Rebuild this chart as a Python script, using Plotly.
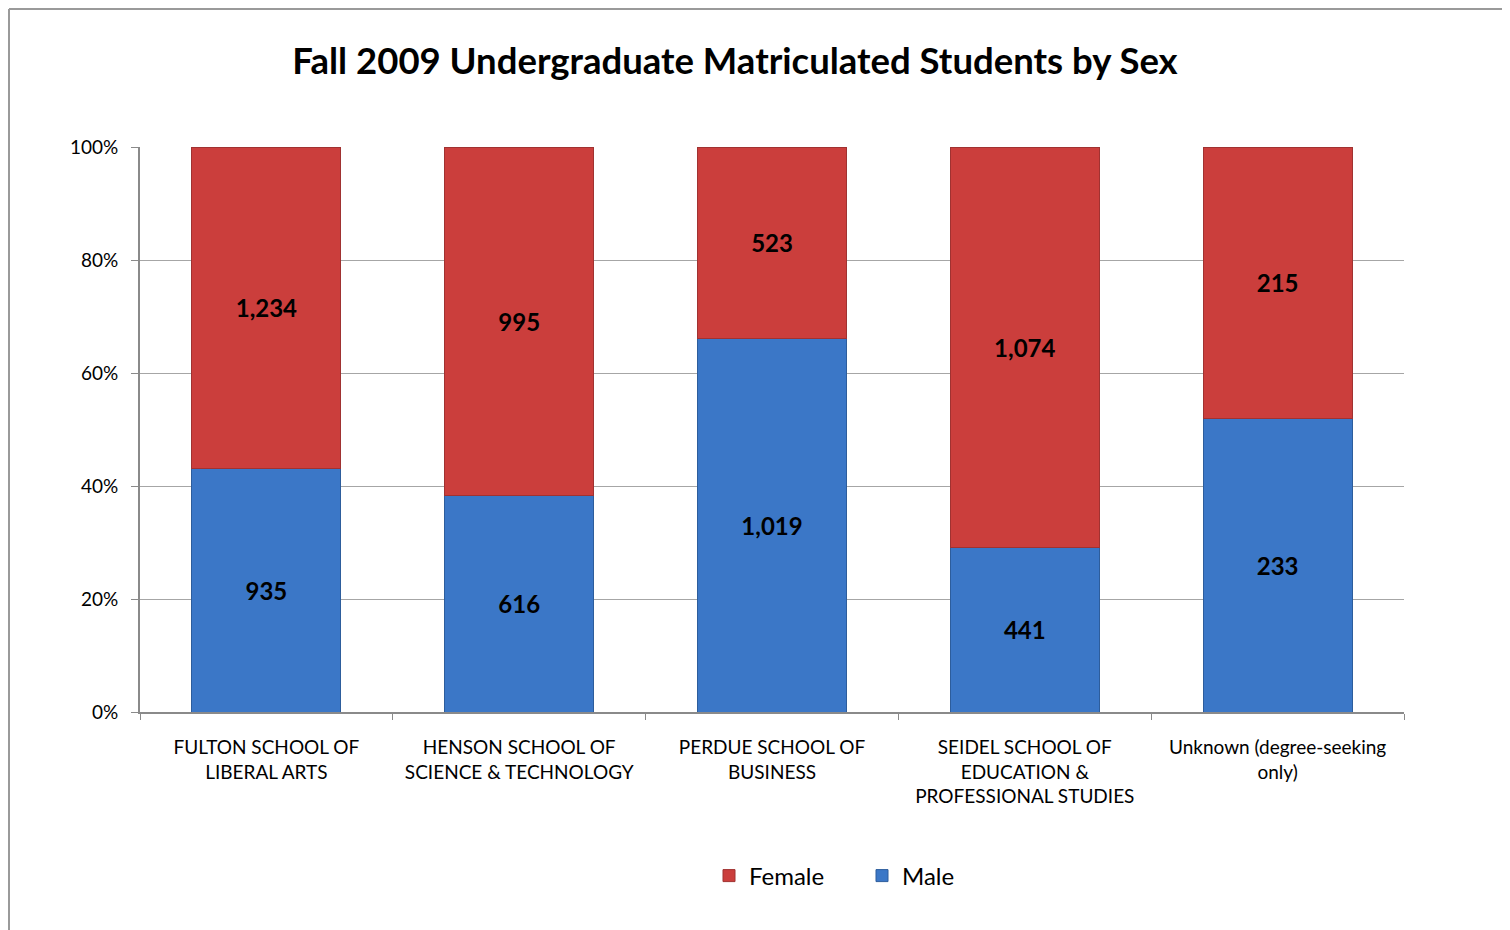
import plotly.graph_objects as go

categories = ["Fulton", "Henson", "Perdue", "Seidel", "Unknown"]
tick_labels = [
    "FULTON SCHOOL OF<br>LIBERAL ARTS",
    "HENSON SCHOOL OF<br>SCIENCE & TECHNOLOGY",
    "PERDUE SCHOOL OF<br>BUSINESS",
    "SEIDEL SCHOOL OF<br>EDUCATION &<br>PROFESSIONAL STUDIES",
    "Unknown (degree-seeking<br>only)",
]
male = [935, 616, 1019, 441, 233]
female = [1234, 995, 523, 1074, 215]

FONT = "Lato"
OFF = 8  # page body margin offset
W, H = 1510, 930
L, R, T, B = 140 - OFF, W - (1404 - OFF), 147 - OFF, H - (712 - OFF)

fig = go.Figure()
fig.add_trace(go.Bar(
    name="Male", x=categories, y=male,
    text=[f"{v:,}" for v in male], textposition="inside",
    insidetextanchor="middle", textangle=0,
    textfont=dict(family=FONT, size=24, color="black", weight="bold"),
    marker=dict(color="#3b77c7", line=dict(color="#2d5d9c", width=1)),
))
fig.add_trace(go.Bar(
    name="Female", x=categories, y=female,
    text=[f"{v:,}" for v in female], textposition="inside",
    insidetextanchor="middle", textangle=0,
    textfont=dict(family=FONT, size=24, color="black", weight="bold"),
    marker=dict(color="#cb3e3c", line=dict(color="#a03231", width=1)),
))

pw = W - L - R
ph = H - T - B
def px(x):
    return (x - OFF - L) / pw
def py(y):
    return (H - B - (y - OFF)) / ph

fig.update_layout(
    width=W, height=H, autosize=False,
    margin=dict(l=L, r=R, t=T, b=B, autoexpand=False),
    barmode="stack", barnorm="percent", bargap=0.41,
    paper_bgcolor="white", plot_bgcolor="white",
    font=dict(family=FONT, color="black"),
    title=dict(text="<b>Fall 2009 Undergraduate Matriculated Students by Sex</b>",
               x=(735 - OFF) / W, xanchor="center", y=1 - (61 - OFF) / H, yanchor="middle",
               font=dict(family=FONT, size=36.5, color="black")),
    xaxis=dict(tickvals=categories, ticktext=tick_labels,
               tickson="boundaries", ticks="outside", ticklen=6,
               tickcolor="#8a8a8a", showline=True, linecolor="#8a8a8a",
               linewidth=2, tickfont=dict(family=FONT, size=19, color="black"),
               ticklabelstandoff=17,
               tickangle=0, automargin=False, showgrid=False),
    yaxis=dict(range=[0, 100], tickvals=[0, 20, 40, 60, 80, 100],
               ticktext=["0%", "20%", "40%", "60%", "80%", "100%"],
               ticks="outside", ticklen=7, tickcolor="#8a8a8a",
               showline=True, linecolor="#8a8a8a", linewidth=2,
               showgrid=True, gridcolor="#a6a6a6", gridwidth=1,
               zeroline=False, automargin=False, ticklabelstandoff=9,
               tickfont=dict(family=FONT, size=19, color="black")),
    legend=dict(orientation="h", x=px(862), xanchor="center",
                y=py(876), yanchor="middle", traceorder="reversed",
                entrywidth=108, entrywidthmode="pixels",
                font=dict(family=FONT, size=24, color="black")),
    showlegend=True,
    shapes=[
        dict(type="line", xref="paper", yref="paper",
             x0=px(9), x1=px(9), y0=py(9), y1=py(H + 20),
             line=dict(color="#9a9a9a", width=2)),
        dict(type="line", xref="paper", yref="paper",
             x0=px(9), x1=px(W + 20), y0=py(9), y1=py(9),
             line=dict(color="#9a9a9a", width=2)),
    ],
)

fig.write_html("out.html")
